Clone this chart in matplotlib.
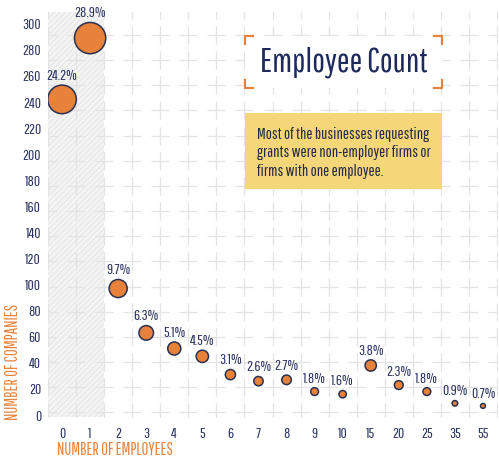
import matplotlib
matplotlib.use("Agg")
import matplotlib.pyplot as plt
import numpy as np
from matplotlib.patches import Rectangle
from matplotlib.lines import Line2D

# ---- data ----
employees = ['0', '1', '2', '3', '4', '5', '6', '7', '8', '9', '10', '15', '20', '25', '35', '55']
companies = [242, 289, 97, 63, 51, 45, 31, 26, 27, 18, 16, 38, 23, 18, 9, 7]
pct_labels = ['24.2%', '28.9%', '9.7%', '6.3%', '5.1%', '4.5%', '3.1%', '2.6%', '2.7%',
              '1.8%', '1.6%', '3.8%', '2.3%', '1.8%', '0.9%', '0.7%']
y_ticks = list(range(0, 301, 20))
title_text = 'Employee Count'
note_text = ('Most of the businesses requesting\n'
             'grants were non-employer firms or\n'
             'firms with one employee.')

plt.rcParams['font.family'] = ['Pathway Gothic One', 'Oswald', 'Archivo Narrow', 'DejaVu Sans']

ORANGE = '#E8823A'
NAVY = '#2C3461'
EDGE = '#2A3150'
TEXT_DARK = '#222845'

W, H = 499, 457
fig = plt.figure(figsize=(W / 100, H / 100), dpi=100)
fig.patch.set_facecolor('white')


def fx(px):
    return px / W


def fy(py):
    return 1 - py / H


ax = fig.add_axes([fx(48), fy(417), fx(497) - fx(48), fy(12) - fy(417)])
ax.set_xlim(-0.5, 15.5)
ax.set_ylim(-1.5, 309)
for s in ax.spines.values():
    s.set_visible(False)

x = np.arange(len(employees))

ax.axvspan(-0.5, 1.5, facecolor='#f5f5f5', edgecolor='#e8e8e8', hatch='//////',
           linewidth=0, zorder=0)

cx = np.arange(-0.5, 16.0, 1.0)
cy = [2 + 19.3 * k for k in range(17)]
CX, CY = np.meshgrid(cx, cy)
ax.scatter(CX.ravel(), CY.ravel(), marker='+', s=150, color='#e3e3e3',
           linewidths=0.9, zorder=1)

sizes = [v * 1.75 for v in companies]
ax.scatter(x, companies, s=sizes, facecolor=ORANGE, edgecolor=EDGE,
           linewidths=1.1, zorder=3)

for xi, v, s, lab in zip(x, companies, sizes, pct_labels):
    r = np.sqrt(s) / 2
    ax.annotate(lab, (xi, v), xytext=(0, r + 1.5), textcoords='offset points',
                ha='center', va='bottom', fontsize=11, color=NAVY, zorder=4)

ax.set_xticks(x)
ax.set_xticklabels(employees)
ax.set_yticks(y_ticks)
ax.set_yticklabels([str(t) for t in y_ticks])
ax.tick_params(axis='both', length=0, labelsize=11, labelcolor=NAVY)
ax.tick_params(axis='x', pad=7)
ax.tick_params(axis='y', pad=5)

ax.set_xlabel('NUMBER OF EMPLOYEES', loc='left', color=ORANGE, fontsize=12)
ax.xaxis.set_label_coords(0.02, -0.062)
ax.set_ylabel('NUMBER OF COMPANIES', loc='bottom', color=ORANGE, fontsize=12)
ax.yaxis.set_label_coords(-0.06, -0.007)

fig.add_artist(Rectangle((fx(245), fy(88)), fx(442) - fx(245), fy(36) - fy(88),
                         transform=fig.transFigure, facecolor='white',
                         edgecolor='none', zorder=5))
arm = 8
bw = 1.6
corners = [
    ([245, 245, 245 + arm], [36 + arm, 36, 36]),
    ([442 - arm, 442, 442], [36, 36, 36 + arm]),
    ([245, 245, 245 + arm], [88 - arm, 88, 88]),
    ([442 - arm, 442, 442], [88, 88, 88 - arm]),
]
for xs, ys in corners:
    fig.add_artist(Line2D([fx(v) for v in xs], [fy(v) for v in ys],
                          transform=fig.transFigure, color=ORANGE,
                          linewidth=bw, zorder=6))
fig.text(fx(344), fy(62), title_text, ha='center', va='center', fontsize=24.5,
         color='#1F2A5C', zorder=7)

fig.add_artist(Rectangle((fx(245), fy(189)), fx(442) - fx(245), fy(113) - fy(189),
                         transform=fig.transFigure, facecolor='#F5D77A',
                         edgecolor='none', zorder=5))
fig.text(fx(257), fy(153), note_text, ha='left', va='center', fontsize=11.7,
         color=TEXT_DARK, linespacing=1.3, zorder=7)

fig.savefig('out.png', dpi=100)
